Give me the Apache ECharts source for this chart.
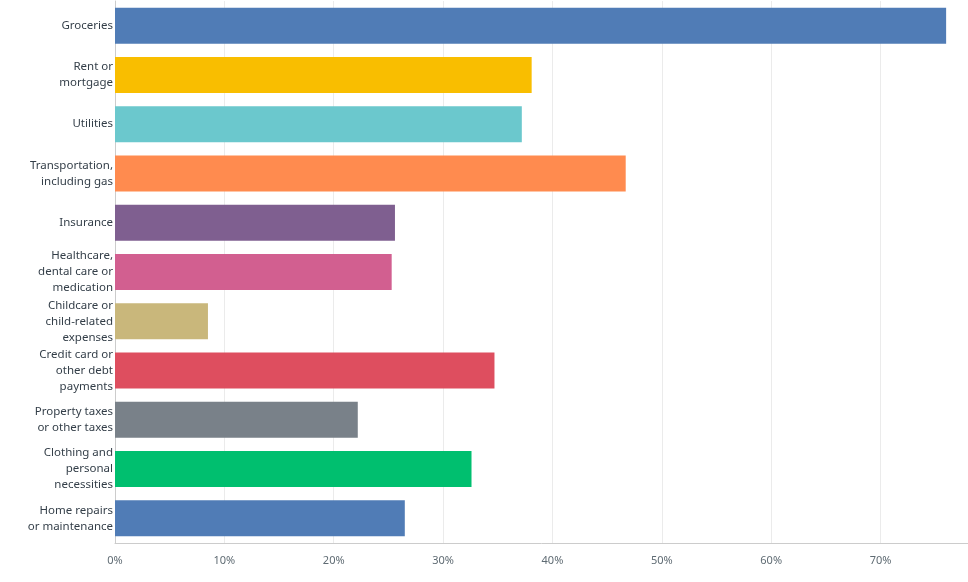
<!DOCTYPE html>
<html>
<head>
<meta charset="utf-8">
<script src="https://cdn.jsdelivr.net/npm/echarts@6/dist/echarts.min.js"></script>
<style>
html,body{margin:0;padding:0;background:#fff;}
#chart{width:968px;height:582px;}
</style>
</head>
<body>
<div id="chart"></div>
<script>
var categories = [
  "Groceries",
  "Rent or\nmortgage",
  "Utilities",
  "Transportation,\nincluding gas",
  "Insurance",
  "Healthcare,\ndental care or\nmedication",
  "Childcare or\nchild-related\nexpenses",
  "Credit card or\nother debt\npayments",
  "Property taxes\nor other taxes",
  "Clothing and\npersonal\nnecessities",
  "Home repairs\nor maintenance"
];
var values = [76.0, 38.1, 37.2, 46.7, 25.6, 25.3, 8.5, 34.7, 22.2, 32.6, 26.5];
var colors = ["#507cb6", "#f9be00", "#6bc8cd", "#ff8b4f", "#7f5f90", "#d25f90", "#c9b77b", "#de4e5f", "#798189", "#00bf6f", "#507cb6"];
var xTicks = [0, 10, 20, 30, 40, 50, 60, 70];

var chart = echarts.init(document.getElementById('chart'));
chart.setOption({
  animation: false,
  grid: {left: 115, right: 0, top: 1, bottom: 39, containLabel: false},
  xAxis: {
    type: 'value',
    min: 0,
    max: 78,
    interval: 10,
    axisLine: {show: true, lineStyle: {color: '#cccccc', width: 1}},
    axisTick: {show: false},
    splitLine: {show: true, lineStyle: {color: '#ebebeb', width: 1}},
    axisLabel: {
      showMaxLabel: false,
      margin: 12,
      color: '#5f6b73',
      fontFamily: 'Noto Sans',
      fontSize: 11,
      formatter: function (v) { return xTicks.indexOf(v) >= 0 ? v + '%' : ''; }
    }
  },
  yAxis: {
    type: 'category',
    inverse: true,
    data: categories,
    axisLine: {show: true, lineStyle: {color: '#cccccc', width: 1}},
    axisTick: {show: false},
    axisLabel: {
      margin: 2,
      color: '#333e48',
      fontFamily: 'Noto Sans',
      fontSize: 11.5,
      lineHeight: 16,
      align: 'right',
      padding: [5, 0, 0, 0]
    }
  },
  series: [{
    type: 'bar',
    barWidth: 36,
    data: values.map(function (v, i) { return {value: v, itemStyle: {color: colors[i]}}; })
  }]
});
</script>
</body>
</html>
